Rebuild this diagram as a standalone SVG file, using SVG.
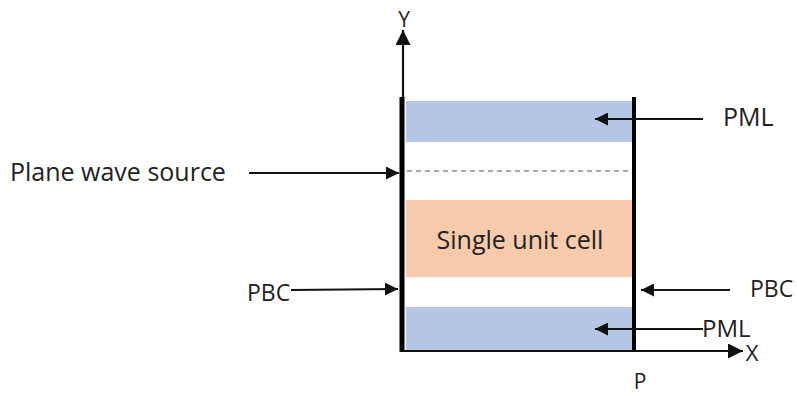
<svg xmlns="http://www.w3.org/2000/svg" width="797" height="396" viewBox="0 0 797 396">
<defs>
<style>
text{font-family:"Open Sans","Noto Sans","Liberation Sans",sans-serif;fill:#222;font-size:25px}
.ln{stroke:#111;stroke-width:2.2;fill:none}
.bar{stroke:#000;stroke-width:5;fill:none}
</style>
<marker id="ah" viewBox="0 0 10 10" refX="10" refY="5" markerWidth="13" markerHeight="13" markerUnits="userSpaceOnUse" orient="auto">
<path d="M0,0 L10,5 L0,10 z" fill="#111"/>
</marker>
<marker id="ahb" viewBox="0 0 10 10" refX="10" refY="5" markerWidth="15" markerHeight="15" markerUnits="userSpaceOnUse" orient="auto">
<path d="M0,0 L10,5 L0,10 z" fill="#111"/>
</marker>
</defs>
<rect width="797" height="396" fill="#fff"/>
<g id="pml-top"><rect x="406" y="101" width="227" height="41" fill="#b4c7e7"/></g>
<g id="unit-cell"><rect x="406" y="200" width="227" height="77" fill="#f8cbad"/><text x="520" y="249" text-anchor="middle">Single unit cell</text></g>
<g id="pml-bottom"><rect x="406" y="307" width="227" height="44" fill="#b4c7e7"/></g>
<g id="source-line"><line x1="407" y1="171" x2="632" y2="171" stroke="#555" stroke-width="1" stroke-dasharray="5,4"/></g>
<g id="boundaries">
<line class="bar" x1="402" y1="97" x2="402" y2="352"/>
<line class="bar" x1="634" y1="97" x2="634" y2="352" style="stroke-width:4"/>
<line class="ln" x1="400" y1="351" x2="634" y2="351"/>
</g>
<g id="axes">
<line class="ln" x1="403" y1="98" x2="403" y2="30" marker-end="url(#ahb)"/>
<line class="ln" x1="634" y1="351" x2="743" y2="351" marker-end="url(#ahb)"/>
<text x="404" y="27" text-anchor="middle" style="font-size:21px">Y</text>
<text x="752" y="361" text-anchor="middle" style="font-size:22px">X</text>
<text x="640" y="389" text-anchor="middle" style="font-size:21px">P</text>
</g>
<g id="connectors">
<line class="ln" x1="249" y1="173" x2="399" y2="173" marker-end="url(#ah)"/>
<line class="ln" x1="291" y1="290" x2="398" y2="289" marker-end="url(#ah)"/>
<line class="ln" x1="703" y1="119" x2="595" y2="119" marker-end="url(#ah)"/>
<line class="ln" x1="730" y1="290" x2="641" y2="290" marker-end="url(#ah)"/>
<line class="ln" x1="703" y1="329" x2="595" y2="329" marker-end="url(#ah)"/>
</g>
<g id="labels">
<text x="10" y="181">Plane wave source</text>
<text x="247" y="301" style="font-size:23px">PBC</text>
<text x="723" y="126">PML</text>
<text x="750" y="297" style="font-size:23px">PBC</text>
<text x="702" y="337" style="font-size:24px">PML</text>
</g>
</svg>
